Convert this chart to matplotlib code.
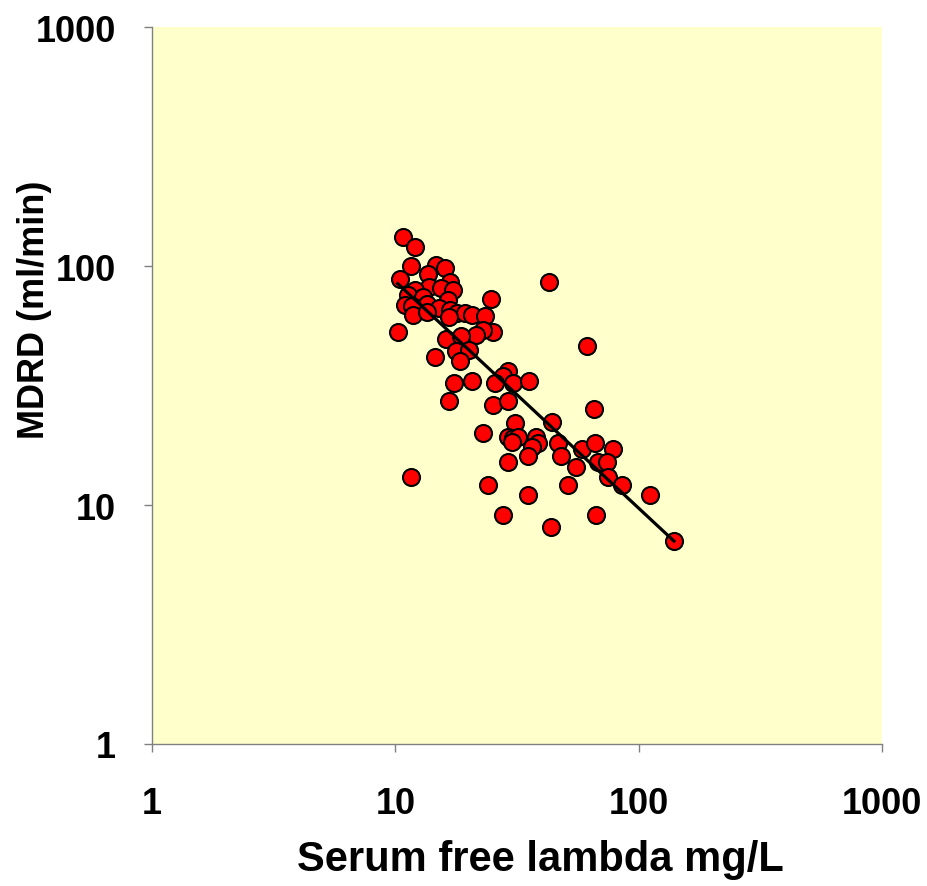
import numpy as np
import matplotlib
matplotlib.use('Agg')
import matplotlib.pyplot as plt

# serum free lambda (mg/L) vs MDRD (ml/min)
lambda_flc = [10.72, 12.01, 11.60, 14.65, 16.00, 13.59, 10.45, 16.77, 13.75, 15.40,
              17.31, 12.04, 11.31, 12.96, 16.51, 24.66, 10.96, 13.46, 11.67, 15.12,
              16.77, 17.87, 19.33, 20.60, 23.36, 11.85, 13.46, 16.61, 10.23, 25.13,
              22.99, 21.45, 16.11, 18.62, 17.76, 20.14, 14.60, 18.49, 29.04, 27.78,
              25.75, 30.36, 35.53, 17.47, 20.72, 16.61, 25.27, 29.04, 42.80, 61.15,
              65.74, 30.94, 44.17, 22.86, 29.12, 30.53, 32.01, 30.08, 37.85, 38.69,
              36.34, 46.74, 35.19, 47.96, 58.32, 66.17, 78.67, 68.26, 73.89, 55.27,
              74.60, 85.19, 29.12, 23.96, 35.19, 51.10, 111.6, 27.78, 66.61, 43.50,
              139.7, 11.60]
mdrd = [131.8, 119.7, 99.7, 101.3, 97.8, 92.6, 88.0, 86.0, 81.4, 80.7,
        79.6, 79.6, 75.6, 74.4, 72.3, 72.6, 68.9, 69.3, 67.8, 66.7,
        65.7, 63.4, 63.4, 62.2, 61.6, 62.4, 64.0, 61.0, 52.8, 53.1,
        54.0, 51.4, 49.5, 50.8, 44.2, 44.5, 41.7, 40.2, 36.5, 34.6,
        32.3, 32.3, 33.1, 32.4, 33.1, 27.2, 26.3, 27.2, 85.5, 46.4,
        25.2, 22.0, 22.3, 20.1, 19.2, 19.0, 19.2, 18.3, 19.2, 18.1,
        17.5, 18.2, 16.0, 16.1, 17.2, 18.1, 17.2, 15.2, 15.2, 14.4,
        13.1, 12.1, 15.1, 12.1, 11.0, 12.1, 11.0, 9.08, 9.08, 8.07,
        7.05, 13.1]

# power-law trend line: mdrd = a * lambda ** b
fit_a = 767.0
fit_b = -0.949

ticks = [1, 10, 100, 1000]
tick_labels = ['1', '10', '100', '1000']

plt.rcParams['font.family'] = ['Liberation Sans', 'DejaVu Sans']
plt.rcParams['font.weight'] = 'bold'

fig = plt.figure(figsize=(9.28, 8.87), dpi=100)
ax = fig.add_axes([0.1638, 0.1601, 0.7866, 0.8083])
ax.set_facecolor('#FFFFCC')

ax.scatter(lambda_flc, mdrd, s=150, c='#FF0000', edgecolors='black',
           linewidths=1.5, zorder=3)

xs = np.array([min(lambda_flc), max(lambda_flc)])
ax.plot(xs, fit_a * xs ** fit_b, color='black', lw=2.3, zorder=4)

ax.set_xscale('log')
ax.set_yscale('log')
ax.set_xlim(1, 1000)
ax.set_ylim(1, 1000)
ax.set_xticks(ticks)
ax.set_xticklabels(tick_labels)
ax.set_yticks(ticks)
ax.set_yticklabels(tick_labels)
ax.minorticks_off()

for side in ['top', 'right']:
    ax.spines[side].set_visible(False)
for side in ['left', 'bottom']:
    ax.spines[side].set_color('#808080')
    ax.spines[side].set_linewidth(1.0)

ax.tick_params(axis='both', direction='out', length=6, width=1.0,
               color='#808080', labelsize=26)
ax.tick_params(axis='x', pad=24)
ax.tick_params(axis='y', pad=20)
for lab in ax.get_xticklabels() + ax.get_yticklabels():
    lab.set_fontweight('bold')

ax.set_xlabel('Serum free lambda mg/L', fontsize=30, fontweight='bold', va='center')
ax.xaxis.set_label_coords(0.532, -0.16)
ax.set_ylabel('MDRD (ml/min)', fontsize=26, fontweight='bold', va='center')
ax.yaxis.set_label_coords(-0.161, 0.607)

plt.savefig('out.png', dpi=100)
